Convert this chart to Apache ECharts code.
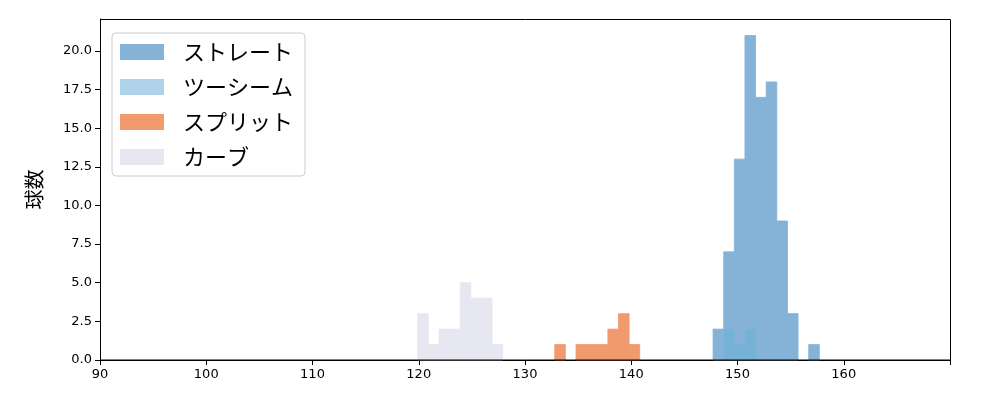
<!DOCTYPE html>
<html><head><meta charset="utf-8">
<script src="https://cdn.jsdelivr.net/npm/echarts@6/dist/echarts.min.js"></script>
<style>html,body{margin:0;padding:0;background:#fff}#c{width:1000px;height:400px}</style>
</head><body><div id="c"></div>
<script>
const names = ['ストレート','ツーシーム','スプリット','カーブ'];
const straightStart = 147.7, straightCounts = [2,7,13,21,17,18,9,3,0,1];
const twoseamStart = 148.7, twoseamCounts = [2,1,2];
const splitStart = 132.8, splitCounts = [1,0,1,1,1,2,3,1];
const curveStart = 119.9, curveCounts = [3,1,2,2,5,4,4,1];
const binWidth = 1.0;
const colors = ['#84b3d7','rgba(107,174,214,0.55)','#f09a6e','#e7e7f1'];
const xTicks = [90,100,110,120,130,140,150,160];

function bins(start, counts){
  return counts.map((c,i)=>[start+i*binWidth, start+(i+1)*binWidth, c]).filter(d=>d[2]>0);
}
function ser(name, data, color, opaque){
  return {type:'custom', name, data, itemStyle:{color},
    encode:{x:[0,1],y:2},
    renderItem:(p,api)=>{
      const a=api.coord([api.value(0),api.value(2)]), b=api.coord([api.value(1),0]);
      const st={fill:color};
      if(opaque){st.stroke=color;st.lineWidth=0.8;}
      return {type:'rect', shape:{x:a[0],y:a[1],width:b[0]-a[0],height:b[1]-a[1]}, style:st};
    }};
}
const chart = echarts.init(document.getElementById('c'));
chart.setOption({
  animation:false,
  grid:{left:100,right:50,top:19,bottom:40},
  xAxis:{type:'value',min:90,max:170,interval:10,
    axisLine:{lineStyle:{color:'#000'}},axisTick:{length:5,lineStyle:{color:'#000'}},
    splitLine:{show:false},
    axisLabel:{color:'#000',fontSize:13,fontFamily:'DejaVu Sans',customValues:xTicks}},
  yAxis:{type:'value',min:0,max:22.07,interval:2.5,name:'球数',nameLocation:'middle',nameGap:56,
    nameTextStyle:{fontSize:20,color:'#000',fontFamily:'Noto Sans CJK JP'},
    axisLine:{show:true,lineStyle:{color:'#000'}},axisTick:{show:true,length:5,lineStyle:{color:'#000'}},
    splitLine:{show:false},
    axisLabel:{color:'#000',fontSize:13,fontFamily:'DejaVu Sans',formatter:v=>v.toFixed(1),showMaxLabel:false}},
  legend:{orient:'vertical',left:112,top:33,itemWidth:44,itemHeight:16,itemGap:13,
    padding:[8,12,8,8],borderColor:'#ccc',borderWidth:1,borderRadius:4,
    textStyle:{fontSize:22,lineHeight:22,color:'#000',fontFamily:'Noto Sans CJK JP',padding:[0,0,0,14]},
    data:names.map(n=>({name:n,icon:'rect'}))},
  graphic:[{type:'rect',shape:{x:100.5,y:19.5,width:850,height:340.5},style:{fill:'none',stroke:'#000',lineWidth:1},silent:true,z:10}],
  series:[
    ser(names[3],bins(curveStart,curveCounts),colors[3],true),
    ser(names[2],bins(splitStart,splitCounts),colors[2],true),
    ser(names[0],bins(straightStart,straightCounts),colors[0],true),
    ser(names[1],bins(twoseamStart,twoseamCounts),colors[1],false)
  ]
});
</script></body></html>
